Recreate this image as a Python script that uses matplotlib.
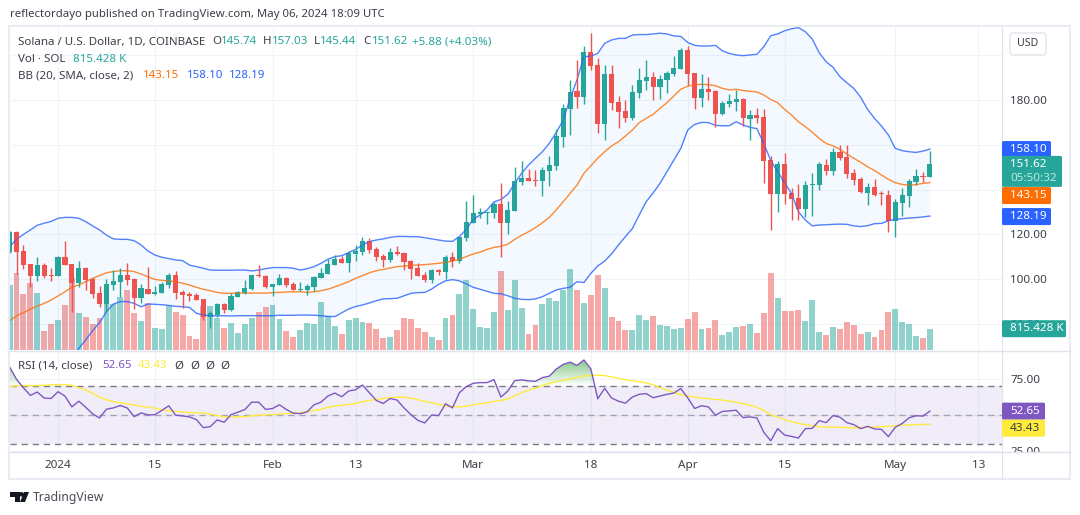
import numpy as np
import pandas as pd
import matplotlib
matplotlib.use("Agg")
from matplotlib import pyplot as plt
from matplotlib.lines import Line2D
from matplotlib.patches import FancyBboxPatch, Polygon, Circle, Rectangle
from matplotlib.path import Path
from matplotlib.transforms import IdentityTransform

plt.rcParams["font.family"] = ["Noto Sans", "DejaVu Sans"]

dates = pd.date_range("2023-12-25", periods=134, freq="D")

# SOL/USD daily candles
opens = [112.2, 121.1, 112.6, 106.8, 101.4, 106.3, 101.9, 101.4, 109.9, 106.8,
         98.3, 105.0, 100.1, 93.8, 88.9, 97.4, 98.8, 101.9, 100.1, 91.6,
         95.6, 93.4, 93.8, 97.4, 101.9, 94.3, 93.4, 93.0, 91.2, 83.1,
         84.0, 88.9, 86.3, 92.1, 93.8, 95.6, 101.9, 101.4, 96.5, 97.4,
         100.5, 97.9, 95.2, 95.2, 96.5, 100.5, 102.3, 106.3, 108.9, 107.2,
         111.3, 112.1, 117.0, 113.5, 110.4, 108.6, 112.1, 111.7, 108.1, 105.0,
         101.9, 99.6, 104.1, 103.2, 109.9, 108.1, 118.4, 125.1, 129.1, 129.6,
         129.6, 133.6, 125.1, 130.4, 143.4, 145.2, 144.3, 143.8, 148.3, 150.5,
         163.5, 176.0, 184.0, 181.3, 201.4, 195.6, 169.3, 191.6, 179.1, 175.1,
         172.0, 183.1, 188.5, 190.3, 185.8, 188.9, 191.6, 193.8, 202.3, 192.0,
         180.9, 184.9, 184.0, 173.7, 178.2, 179.1, 180.4, 171.5, 173.3, 172.4,
         153.2, 138.0, 151.4, 138.5, 136.3, 131.3, 142.2, 142.0, 151.0, 148.3,
         156.8, 154.6, 147.4, 144.7, 138.5, 141.2, 138.5, 137.6, 126.0, 134.0,
         137.1, 143.4, 146.0, 145.74]

highs = [121.5, 121.5, 115.3, 106.9, 109.8, 107.2, 104.9, 110.4, 117.1, 107.0,
         108.1, 105.3, 100.4, 97.0, 100.1, 104.1, 104.9, 107.2, 100.5, 97.9,
         105.5, 97.0, 98.8, 102.8, 103.7, 95.2, 94.3, 93.8, 91.3, 85.8,
         89.4, 89.4, 93.8, 94.7, 99.6, 101.9, 106.3, 101.9, 97.9, 102.3,
         101.0, 98.8, 98.8, 97.9, 101.4, 105.0, 109.0, 110.8, 110.4, 112.4,
         115.1, 118.8, 118.4, 114.4, 111.3, 113.9, 114.8, 112.1, 108.6, 107.2,
         103.2, 104.6, 104.6, 110.7, 112.1, 118.8, 134.9, 137.6, 131.8, 130.2,
         134.5, 142.9, 134.9, 150.1, 152.8, 149.2, 148.8, 149.9, 155.0, 167.0,
         178.2, 188.9, 197.9, 204.1, 209.9, 198.7, 195.6, 195.6, 181.8, 180.0,
         186.7, 194.3, 197.9, 192.5, 191.2, 192.9, 199.6, 203.2, 204.1, 192.0,
         191.6, 190.3, 184.5, 179.5, 182.7, 184.5, 180.9, 175.5, 176.4, 176.0,
         155.0, 152.8, 156.3, 140.7, 142.5, 143.8, 147.4, 152.3, 153.7, 158.6,
         159.9, 159.9, 149.2, 145.6, 143.0, 144.7, 139.4, 139.8, 135.8, 140.7,
         144.7, 149.2, 147.9, 157.03]

lows = [111.5, 102.3, 104.6, 96.7, 99.4, 100.7, 99.4, 101.3, 106.2, 85.5,
        96.4, 95.2, 91.6, 87.6, 85.5, 95.2, 92.2, 97.4, 86.7, 89.4,
        93.2, 93.0, 93.8, 96.1, 91.2, 87.1, 90.3, 90.6, 81.8, 78.2,
        83.1, 84.9, 85.8, 92.0, 93.4, 95.2, 101.0, 96.1, 92.5, 97.4,
        96.5, 95.2, 94.6, 93.0, 94.7, 100.5, 102.3, 106.3, 107.1, 103.2,
        108.1, 110.8, 111.7, 108.1, 105.4, 107.7, 110.8, 104.1, 100.1, 101.4,
        98.7, 98.3, 101.9, 100.1, 105.4, 107.2, 117.1, 125.1, 127.3, 124.6,
        127.3, 109.9, 120.2, 130.4, 142.1, 143.8, 141.6, 137.1, 141.6, 148.7,
        159.0, 164.4, 176.4, 178.2, 193.4, 165.3, 162.1, 175.5, 167.5, 170.2,
        171.1, 180.9, 184.5, 180.0, 180.4, 183.1, 190.7, 193.8, 186.7, 176.0,
        176.9, 180.0, 168.0, 173.3, 176.9, 175.1, 168.4, 162.1, 169.7, 142.9,
        122.0, 130.0, 133.6, 126.4, 126.4, 127.8, 128.2, 139.8, 146.5, 146.5,
        153.2, 145.2, 142.1, 138.5, 133.1, 137.1, 133.1, 121.1, 118.8, 128.2,
        132.2, 142.1, 143.4, 145.44]

closes = [121.1, 112.3, 106.3, 101.4, 106.3, 101.4, 101.4, 109.9, 106.3, 98.3,
          105.0, 99.6, 93.4, 88.9, 97.9, 99.2, 101.9, 99.6, 91.6, 96.1,
          93.4, 94.3, 97.9, 101.9, 93.8, 93.0, 92.5, 90.7, 83.1, 84.9,
          88.9, 86.3, 92.5, 94.3, 96.1, 101.9, 101.3, 96.5, 97.9, 100.5,
          97.4, 95.2, 95.6, 97.0, 101.0, 102.8, 106.8, 109.0, 107.2, 111.7,
          112.6, 117.0, 113.0, 109.9, 108.6, 112.1, 111.3, 107.7, 104.6, 101.4,
          99.6, 104.1, 103.2, 109.9, 108.1, 118.8, 125.5, 129.5, 130.0, 130.0,
          133.6, 125.1, 130.9, 143.8, 145.2, 143.8, 143.8, 148.8, 151.0, 163.9,
          176.4, 183.6, 181.3, 201.4, 195.2, 169.3, 191.6, 178.7, 174.6, 172.0,
          183.6, 188.9, 190.3, 185.8, 189.4, 192.0, 194.3, 202.3, 191.6, 180.9,
          184.9, 183.6, 173.7, 178.7, 179.5, 180.4, 172.0, 173.3, 172.0, 152.8,
          138.0, 151.4, 138.0, 135.8, 131.3, 142.0, 142.5, 151.4, 148.3, 156.8,
          154.1, 147.0, 144.3, 138.9, 141.2, 137.6, 138.0, 126.0, 134.5, 137.6,
          143.8, 146.0, 145.8, 151.62]

# volume in thousands of SOL
volumes = [2484, 2943, 2140, 2561, 2179, 726, 994, 1147, 1720, 2752,
           1414, 1261, 994, 1223, 1758, 1758, 2026, 2293, 1414, 1108,
           1796, 841, 803, 1682, 1452, 1338, 535, 420, 1682, 1682,
           1223, 841, 1032, 650, 994, 1223, 1452, 1643, 1720, 1185,
           726, 497, 764, 1032, 994, 1835, 1299, 930, 624, 1159,
           1236, 1083, 1045, 815, 471, 510, 777, 1236, 1198, 854,
           701, 510, 395, 1236, 1350, 2153, 2688, 1580, 892, 854,
           1465, 3032, 1542, 2688, 1618, 624, 968, 1771, 2000, 1886,
           2306, 3109, 2306, 1809, 2115, 2879, 2382, 1274, 1121, 777,
           777, 1350, 1159, 1312, 968, 930, 815, 854, 1198, 1465,
           815, 854, 1159, 586, 701, 892, 930, 1006, 662, 1427,
           2956, 2000, 1503, 1503, 1542, 1121, 1924, 701, 586, 892,
           815, 1083, 968, 624, 701, 510, 777, 1465, 1580, 1083,
           1006, 548, 471, 815.428]

bb_upper = [114.5, 117.8, 120.0, 122.0, 124.1, 125.0, 125.8, 127.2, 127.6, 127.6,
            127.2, 125.7, 123.8, 122.0, 119.7, 118.0, 117.8, 117.8, 117.2, 115.3,
            112.6, 110.8, 109.8, 109.2, 108.6, 108.3, 106.3, 105.6, 104.9, 104.1,
            104.0, 104.0, 104.0, 104.1, 104.1, 103.7, 104.1, 104.7, 105.2, 105.2,
            105.2, 104.9, 104.1, 104.7, 105.6, 107.1, 108.9, 110.1, 110.5, 111.9,
            113.3, 115.3, 116.8, 117.5, 118.0, 118.7, 119.1, 119.1, 119.0, 119.0,
            118.5, 118.0, 117.5, 117.0, 116.9, 119.0, 122.3, 126.7, 128.7, 130.9,
            134.5, 135.6, 137.9, 142.8, 147.3, 151.0, 154.0, 156.9, 160.7, 165.5,
            171.0, 180.7, 189.0, 199.3, 199.6, 200.8, 205.3, 206.8, 207.5, 207.5,
            209.0, 209.2, 209.2, 209.5, 209.8, 209.5, 208.6, 208.4, 205.7, 204.4,
            204.1, 204.1, 204.4, 202.0, 200.8, 200.1, 199.8, 200.1, 200.4, 203.8,
            208.7, 209.5, 210.9, 211.8, 212.3, 210.5, 207.2, 201.1, 197.1, 194.6,
            190.4, 187.7, 185.2, 181.2, 175.8, 171.8, 168.4, 164.4, 158.4, 157.4,
            156.9, 156.6, 157.2, 158.10]

bb_mid = [81.5, 83.6, 85.1, 86.6, 88.0, 89.2, 90.7, 92.5, 94.4, 96.4,
          97.4, 98.9, 100.4, 101.6, 102.9, 103.4, 103.8, 103.8, 103.4, 102.3,
          101.1, 99.9, 99.5, 99.2, 98.9, 98.2, 97.4, 96.4, 95.5, 94.9,
          94.1, 93.7, 93.7, 93.8, 93.8, 93.8, 93.8, 93.8, 94.0, 94.1,
          94.3, 94.4, 94.4, 94.1, 94.4, 94.9, 95.5, 96.6, 97.7, 98.9,
          100.4, 101.6, 102.9, 103.8, 104.4, 105.0, 105.6, 105.9, 106.2, 106.3,
          106.5, 106.8, 107.1, 107.5, 108.1, 108.9, 110.1, 111.3, 112.1, 113.3,
          114.2, 114.7, 115.6, 117.8, 119.6, 121.2, 123.0, 125.2, 127.6, 130.9,
          134.6, 138.3, 142.0, 147.3, 150.6, 154.0, 156.9, 159.5, 161.4, 163.9,
          166.6, 169.9, 171.8, 173.6, 176.3, 178.8, 181.8, 184.8, 186.2, 186.8,
          187.0, 186.8, 186.4, 185.2, 184.5, 184.8, 184.2, 183.9, 183.6, 182.2,
          180.2, 178.8, 175.8, 173.3, 170.3, 168.1, 165.6, 162.9, 160.6, 159.5,
          158.0, 155.9, 154.0, 152.2, 150.2, 148.5, 146.5, 144.6, 143.1, 142.3,
          142.0, 142.2, 142.8, 143.15]

bb_lower = [48.5, 49.4, 50.2, 51.2, 51.9, 53.4, 55.6, 57.8, 61.2, 65.2,
            69.1, 72.9, 77.0, 80.6, 85.5, 88.9, 90.0, 90.0, 89.2, 87.7,
            88.9, 88.8, 88.6, 88.3, 87.9, 87.7, 87.4, 84.8, 84.0, 83.7,
            83.6, 83.7, 83.6, 83.7, 83.7, 83.7, 83.7, 83.7, 83.7, 83.9,
            83.9, 83.9, 84.0, 84.0, 83.9, 83.7, 83.4, 83.3, 85.0, 86.7,
            87.8, 88.5, 89.4, 90.4, 91.2, 91.3, 91.5, 92.6, 93.7, 94.0,
            94.1, 95.6, 97.7, 99.3, 99.8, 99.3, 97.9, 96.4, 95.5, 94.6,
            93.7, 93.5, 92.6, 91.5, 91.0, 90.9, 91.2, 92.2, 93.7, 95.2,
            95.9, 96.4, 98.9, 98.5, 102.6, 105.9, 108.1, 111.3, 115.3, 119.0,
            122.6, 128.7, 134.6, 138.5, 142.8, 148.0, 153.2, 158.4, 166.6, 169.1,
            170.0, 169.9, 168.7, 168.5, 168.5, 170.3, 168.8, 167.8, 167.2, 160.5,
            153.0, 148.0, 143.0, 138.3, 130.1, 126.4, 123.8, 124.2, 124.3, 124.5,
            124.6, 124.5, 123.8, 123.5, 123.9, 124.8, 124.9, 126.1, 126.7, 127.0,
            127.3, 127.5, 127.8, 128.19]

rsi = [83.6, 74.9, 69.0, 63.6, 66.0, 61.8, 61.5, 66.2, 63.2, 55.6,
       59.6, 55.4, 50.7, 47.9, 54.0, 54.9, 56.6, 54.9, 48.8, 51.4,
       50.0, 50.2, 53.1, 56.4, 49.8, 49.3, 48.6, 46.7, 41.1, 41.8,
       46.5, 44.9, 50.2, 51.9, 53.8, 58.9, 58.9, 53.8, 54.5, 57.1,
       53.8, 51.2, 50.9, 52.1, 57.1, 58.9, 63.2, 65.3, 62.7, 66.7,
       67.6, 70.9, 65.5, 60.1, 58.0, 61.5, 60.4, 54.9, 50.2, 46.2,
       44.4, 50.0, 49.5, 57.8, 54.9, 65.5, 69.8, 72.1, 72.6, 72.6,
       74.7, 62.5, 66.7, 74.0, 74.5, 73.8, 73.5, 76.1, 77.1, 82.0,
       85.3, 86.9, 84.6, 88.4, 82.2, 61.3, 68.6, 61.8, 59.6, 58.2,
       62.5, 64.4, 64.9, 62.0, 63.2, 64.4, 65.3, 68.4, 62.0, 54.5,
       56.4, 55.6, 49.8, 52.4, 52.8, 53.3, 48.1, 48.6, 47.9, 37.8,
       31.9, 40.4, 35.9, 35.0, 33.8, 40.4, 40.6, 46.0, 44.6, 49.5,
       48.4, 44.6, 43.2, 40.4, 42.0, 40.2, 39.9, 34.8, 41.4, 44.0,
       48.0, 49.4, 49.2, 52.65]

rsi_ma = [69.5, 70.5, 70.5, 70.5, 70.5, 70.7, 71.0, 71.2, 71.2, 70.7,
          69.1, 67.4, 65.1, 62.5, 60.6, 59.2, 58.5, 57.8, 56.8, 56.1,
          55.4, 54.7, 53.5, 52.8, 52.6, 51.9, 51.6, 51.4, 51.4, 50.5,
          49.5, 48.8, 48.6, 48.6, 48.8, 49.3, 49.8, 50.0, 50.2, 50.7,
          50.9, 51.2, 51.4, 52.1, 53.1, 53.8, 55.4, 56.1, 56.8, 57.3,
          58.0, 59.2, 60.1, 60.8, 61.5, 62.0, 62.4, 62.4, 61.8, 60.6,
          59.4, 58.5, 57.5, 56.6, 55.9, 55.6, 56.1, 57.1, 57.8, 58.5,
          59.4, 60.1, 61.1, 63.4, 65.5, 67.4, 68.8, 70.7, 72.1, 73.3,
          74.2, 75.2, 76.1, 77.3, 77.5, 77.8, 77.5, 76.6, 75.6, 74.7,
          73.8, 73.3, 72.4, 71.0, 69.0, 67.4, 65.8, 64.1, 63.2, 62.5,
          61.8, 61.3, 60.8, 60.4, 59.6, 58.9, 58.0, 56.8, 55.4, 53.1,
          50.2, 48.4, 46.7, 45.3, 44.1, 43.2, 42.5, 41.8, 41.5, 41.5,
          41.4, 41.1, 40.9, 41.1, 41.4, 41.5, 41.8, 42.0, 42.4, 42.7,
          43.0, 43.2, 43.3, 43.43]

price_ticks = [180, 120, 100, 80]
price_grid = [80, 100, 120, 140, 160, 180, 200]
rsi_ticks = [75, 25]
time_ticks = ["2024-01-01", "2024-01-15", "2024-02-01", "2024-02-13", "2024-03-01",
              "2024-03-18", "2024-04-01", "2024-04-15", "2024-05-01", "2024-05-13"]
time_labels = ["2024", "15", "Feb", "13", "Mar", "18", "Apr", "15", "May", "13"]

UP = "#26A69A"
DOWN = "#EF5350"
BLUE = "#2962FF"
ORANGE = "#FF6D00"
PURPLE = "#7E57C2"
YELLOW = "#FFEB3B"
GRID = "#F0F3FA"
TEXT = "#3b3e48"

W, H = 1080, 515
PANE_L, PANE_R = 10, 1002
OUTER_R = 1070
MAIN_T, MAIN_B = 27, 350
RSI_B = 452
TIME_B = 479
LABEL_SIZE = 8.3
SCALE_SIZE = 8.4


def rect(left, top, right, bottom):
    return [left / W, (H - bottom) / H, (right - left) / W, (bottom - top) / H]


def put_text(x, y, s, color=TEXT, size=LABEL_SIZE, ha="left", weight="normal", z=20):
    # x, y counted in pixels from the top left corner
    fig.text(x, H - y, s, color=color, fontsize=size, ha=ha, va="center",
             fontweight=weight, transform=IdentityTransform(), zorder=z)


def put_line(x0, y0, x1, y1, color="#E0E3EB", lw=1.0, z=12):
    fig.add_artist(Line2D([x0, x1], [H - y0, H - y1], color=color, linewidth=lw,
                          transform=IdentityTransform(), zorder=z))


def price_tag(ax, value, text, color, txt_color="white", width=49, height=17, shift=0):
    y = ax.transData.transform((0, value))[1] - shift
    fig.add_artist(FancyBboxPatch((PANE_R, y - height / 2), width, height,
                                  boxstyle="round,pad=0,rounding_size=1.5", fc=color, ec="none",
                                  transform=IdentityTransform(), zorder=15))
    fig.text(PANE_R + 8, y, text, color=txt_color, fontsize=SCALE_SIZE, ha="left", va="center",
             transform=IdentityTransform(), zorder=20)
    return y


fig = plt.figure(figsize=(W / 100, H / 100), dpi=100, facecolor="white")

x = np.arange(len(dates))
o = np.array(opens)
h = np.array(highs)
l = np.array(lows)
c = np.array(closes)
up = c >= o
candle_colors = np.where(up, UP, DOWN)
tick_pos = [(pd.Timestamp(t) - dates[0]).days for t in time_ticks]
xlim = (0.06, 143.42)
price_lim = (68.4, 212.59)
rsi_lim = (24.06, 95.4)
vol_lim = (0, 12365)

# grid sits on its own axes, underneath the volume bars
ax_grid = fig.add_axes(rect(PANE_L, MAIN_T, PANE_R, MAIN_B), zorder=1)
ax_grid.set_xlim(xlim)
ax_grid.set_ylim(price_lim)
ax_grid.hlines(price_grid, *xlim, color=GRID, linewidth=0.8)
ax_grid.vlines(tick_pos, *price_lim, color=GRID, linewidth=0.8)
ax_grid.axis("off")

ax_vol = fig.add_axes(rect(PANE_L, MAIN_T, PANE_R, MAIN_B), zorder=2)
ax_vol.patch.set_visible(False)
ax_vol.bar(x, volumes, width=0.85, color=candle_colors, alpha=0.5, linewidth=0)
ax_vol.set_xlim(xlim)
ax_vol.set_ylim(vol_lim)
ax_vol.axis("off")

ax = fig.add_axes(rect(PANE_L, MAIN_T, PANE_R, MAIN_B), zorder=3)
ax.patch.set_visible(False)
ax.fill_between(x, bb_lower, bb_upper, color="#2196F3", alpha=0.05, linewidth=0)
ax.plot(x, bb_upper, color=BLUE, linewidth=1.0, alpha=0.8)
ax.plot(x, bb_lower, color=BLUE, linewidth=1.0, alpha=0.8)
ax.plot(x, bb_mid, color=ORANGE, linewidth=1.0, alpha=0.8)
ax.vlines(x, l, h, color=candle_colors, linewidth=1.0)
ax.bar(x, np.abs(c - o), bottom=np.minimum(o, c), width=0.74, color=candle_colors, linewidth=0)
ax.set_xlim(xlim)
ax.set_ylim(price_lim)
ax.set_xticks([])
ax.yaxis.tick_right()
ax.set_yticks(price_ticks)
ax.set_yticklabels(["%.2f" % t for t in price_ticks])
ax.tick_params(axis="y", length=0, pad=5.8, labelsize=SCALE_SIZE, labelcolor=TEXT)
for side in ax.spines.values():
    side.set_visible(False)

# RSI pane
ax_rsi = fig.add_axes(rect(PANE_L, MAIN_B, PANE_R, RSI_B), zorder=3)
ax_rsi.set_xlim(xlim)
ax_rsi.set_ylim(rsi_lim)
ax_rsi.hlines(rsi_ticks + [50], *xlim, color=GRID, linewidth=0.8, zorder=0)
ax_rsi.vlines(tick_pos, *rsi_lim, color=GRID, linewidth=0.8, zorder=0)
ax_rsi.axhspan(30, 70, color=PURPLE, alpha=0.1, linewidth=0, zorder=1)
for level, alpha in [(70, 1.0), (50, 0.6), (30, 1.0)]:
    ax_rsi.axhline(level, color="#787B86", linewidth=1.0, alpha=alpha, dashes=(4.5, 3.5), zorder=2)

# green gradient where RSI runs above 70
over = ax_rsi.fill_between(x, 70, rsi, where=np.array(rsi) > 70, interpolate=True, linewidth=0)
clip_path = Path.make_compound_path(*over.get_paths())
over.remove()
fade = np.zeros((100, 2, 4))
fade[..., 0], fade[..., 1], fade[..., 2] = 76 / 255, 175 / 255, 80 / 255
fade[:, :, 3] = np.linspace(0.75, 0.0, 100)[:, None]
im = ax_rsi.imshow(fade, extent=(xlim[0], xlim[1], 70, 90), origin="upper", aspect="auto", zorder=3)
im.set_clip_path(clip_path, transform=ax_rsi.transData)
ax_rsi.set_xlim(xlim)
ax_rsi.set_ylim(rsi_lim)

ax_rsi.plot(x, rsi_ma, color=YELLOW, linewidth=1.0, zorder=4)
ax_rsi.plot(x, rsi, color=PURPLE, linewidth=1.0, zorder=5)
ax_rsi.yaxis.tick_right()
ax_rsi.set_yticks(rsi_ticks)
ax_rsi.set_yticklabels(["%.2f" % t for t in rsi_ticks])
ax_rsi.set_xticks(tick_pos)
ax_rsi.set_xticklabels(time_labels)
ax_rsi.get_xticklabels()[0].set_fontweight("bold")
ax_rsi.tick_params(axis="both", length=0, labelsize=SCALE_SIZE, labelcolor=TEXT)
ax_rsi.tick_params(axis="y", pad=5.8)
ax_rsi.tick_params(axis="x", pad=6)
for side in ax_rsi.spines.values():
    side.set_visible(False)

# the time scale strip hides anything spilling under the RSI pane
fig.add_artist(Rectangle((PANE_R + 1, H - TIME_B), OUTER_R - PANE_R - 1, TIME_B - RSI_B - 1, fc="white", ec="none",
                         transform=IdentityTransform(), zorder=8))

# frame and pane separators
put_line(PANE_L - 1, MAIN_T - 1, OUTER_R, MAIN_T - 1, lw=1.5, color="#E9ECF3")
put_line(PANE_L - 1, TIME_B, OUTER_R, TIME_B, lw=1.5, color="#E9ECF3")
put_line(PANE_L - 1, MAIN_T - 1, PANE_L - 1, TIME_B, lw=1.5, color="#E9ECF3")
put_line(OUTER_R, MAIN_T - 1, OUTER_R, TIME_B, lw=1.5, color="#E9ECF3")
put_line(PANE_R, MAIN_T, PANE_R, TIME_B, lw=0.8)
put_line(PANE_L, MAIN_B + 0.5, OUTER_R, MAIN_B + 0.5, lw=1.0)
put_line(PANE_L, RSI_B, OUTER_R, RSI_B, lw=1.0)

# value tags on the right scale
price_tag(ax, 158.10, "158.10", BLUE, shift=0.5)
price_tag(ax, 143.15, "143.15", ORANGE, shift=13)
price_tag(ax, 128.19, "128.19", BLUE, shift=0.5)
y_last = ax.transData.transform((0, 151.62))[1] - 7.8
fig.add_artist(FancyBboxPatch((PANE_R, y_last - 15.5), 60, 31, boxstyle="round,pad=0,rounding_size=1.5",
                              fc=UP, ec="none", transform=IdentityTransform(), zorder=15))
fig.text(PANE_R + 8, y_last + 7, "151.62", color="white", fontsize=SCALE_SIZE, va="center",
         transform=IdentityTransform(), zorder=20)
fig.text(PANE_R + 8, y_last - 7, "05:50:32", color="#BFE5E1", fontsize=SCALE_SIZE, va="center",
         transform=IdentityTransform(), zorder=20)
price_tag(ax_vol, 815.428, "815.428 K", UP, width=64)
price_tag(ax_rsi, 52.65, "52.65", PURPLE, width=43)
price_tag(ax_rsi, 43.43, "43.43", YELLOW, txt_color="#3b3e48", width=43, shift=3.9)

# currency button
fig.add_artist(FancyBboxPatch((1010, H - 55), 36, 22, boxstyle="round,pad=0,rounding_size=3",
                              fc="white", ec="#E0E3EB", linewidth=1.0, transform=IdentityTransform(), zorder=15))
put_text(1028, 44, "USD", size=7.6, ha="center")

# header and legend text
put_text(10, 15, "reflectordayo published on TradingView.com, May 06, 2024 18:09 UTC", size=8.2)
put_text(18, 42, "Solana / U.S. Dollar, 1D, COINBASE")
for xpos, letter, vx, val in [(212, "O", 221, "145.74"), (263, "H", 272, "157.03"),
                              (314, "L", 320, "145.44"), (363, "C", 372, "151.62")]:
    put_text(xpos, 42, letter)
    put_text(vx, 42, val, color=UP)
put_text(412, 42, "+5.88 (+4.03%)", color=UP)
put_text(18, 59, "Vol · SOL")
put_text(73, 59, "815.428 K", color=UP)
put_text(18, 76, "BB (20, SMA, close, 2)")
put_text(143, 76, "143.15", color=ORANGE)
put_text(187, 76, "158.10", color=BLUE)
put_text(229, 76, "128.19", color=BLUE)
put_text(18, 366, "RSI (14, close)")
put_text(102, 366, "52.65", color=PURPLE)
put_text(138, 366, "43.43", color=YELLOW)
for xpos in [179, 195, 210, 225]:
    put_text(xpos, 366, "Ø", ha="center")

# footer logo
fig.add_artist(Polygon([(10, H - 492), (20, H - 492), (20, H - 502), (15, H - 502), (15, H - 497), (10, H - 497)],
                       fc="#131722", ec="none", transform=IdentityTransform(), zorder=15))
fig.add_artist(Circle((21.5, H - 494.3), 2.3, fc="#131722", ec="none", transform=IdentityTransform(), zorder=15))
fig.add_artist(Polygon([(24, H - 492), (29, H - 492), (25, H - 502), (20, H - 502)],
                       fc="#131722", ec="none", transform=IdentityTransform(), zorder=15))
put_text(33, 497, "TradingView", size=8.8, color="#4a4e59")

fig.savefig("out.png", dpi=100, facecolor="white")
